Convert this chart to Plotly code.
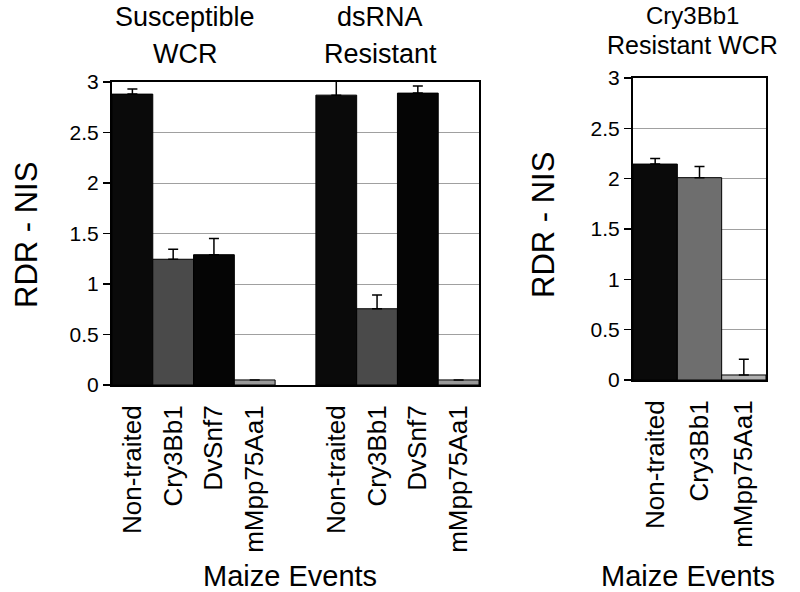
import plotly.graph_objects as go

# ---- data ----
left_pos = [0, 1, 2, 3, 5, 6, 7, 8]
left_labels = ["Non-traited", "Cry3Bb1", "DvSnf7", "mMpp75Aa1",
               "Non-traited", "Cry3Bb1", "DvSnf7", "mMpp75Aa1"]
left_values = [2.88, 1.245, 1.29, 0.05, 2.87, 0.755, 2.89, 0.05]
left_err = [0.05, 0.10, 0.16, 0.0, 0.14, 0.135, 0.07, 0.0]
left_colors = ["#0a0a0a", "#4a4a4a", "#050505", "#9a9a9a",
               "#0a0a0a", "#4a4a4a", "#050505", "#9a9a9a"]

right_pos = [0, 1, 2]
right_labels = ["Non-traited", "Cry3Bb1", "mMpp75Aa1"]
right_values = [2.145, 2.01, 0.05]
right_err = [0.055, 0.11, 0.155]
right_colors = ["#0a0a0a", "#6e6e6e", "#b0b0b0"]

y_ticks = [0, 0.5, 1, 1.5, 2, 2.5, 3]
y_ticktext = ["0", "0.5", "1", "1.5", "2", "2.5", "3"]

W, H = 800, 592
FONT = "Liberation Sans, Arial, sans-serif"

def px_x(v):
    return v / W

def px_y(v):
    return 1 - v / H

fig = go.Figure()

fig.add_trace(go.Bar(
    x=left_pos, y=left_values, width=1.0,
    marker=dict(color=left_colors, line=dict(color="#000000", width=1)),
    error_y=dict(type="data", array=left_err, arrayminus=[0] * len(left_err),
                 symmetric=False, color="#000000", thickness=1.5, width=5),
    xaxis="x", yaxis="y", showlegend=False,
))
fig.add_trace(go.Bar(
    x=right_pos, y=right_values, width=1.0,
    marker=dict(color=right_colors, line=dict(color="#000000", width=1)),
    error_y=dict(type="data", array=right_err, arrayminus=[0] * len(right_err),
                 symmetric=False, color="#000000", thickness=1.5, width=5),
    xaxis="x2", yaxis="y2", showlegend=False,
))

axis_common_y = dict(
    range=[0, 3], tickvals=y_ticks, ticktext=y_ticktext,
    showgrid=True, gridcolor="#a0a0a0", gridwidth=1,
    showline=True, linecolor="#000000", linewidth=2, mirror=True,
    ticks="outside", ticklen=7, tickcolor="#000000", tickwidth=1.5,
    tickfont=dict(size=21, color="#000000", family=FONT),
    zeroline=False, fixedrange=True, automargin=False,
)
axis_common_x = dict(
    showline=True, linecolor="#000000", linewidth=2, mirror=True,
    ticks="", showgrid=False, zeroline=False, tickangle=-90,
    tickfont=dict(size=26, color="#000000", family=FONT),
    ticklabelstandoff=8, automargin=False, fixedrange=True,
)

fig.update_layout(
    template="none",
    width=W, height=H,
    margin=dict(l=0, r=0, t=0, b=0, pad=0, autoexpand=False),
    paper_bgcolor="#ffffff", plot_bgcolor="#ffffff",
    bargap=0,
    hovermode=False,
    xaxis=dict(domain=[px_x(112), px_x(479)], range=[-0.5, 8.5],
               tickvals=left_pos, ticktext=left_labels, anchor="y", **axis_common_x),
    yaxis=dict(domain=[px_y(385), px_y(82)], anchor="x", **axis_common_y),
    xaxis2=dict(domain=[px_x(633), px_x(766)], range=[-0.5, 2.5],
                tickvals=right_pos, ticktext=right_labels, anchor="y2", **axis_common_x),
    yaxis2=dict(domain=[px_y(380), px_y(78)], anchor="x2", **axis_common_y),
)

def note(text, x, y, size, angle=0):
    fig.add_annotation(text=text, x=px_x(x), y=px_y(y), xref="paper", yref="paper",
                       showarrow=False, xanchor="center", yanchor="middle",
                       textangle=angle,
                       font=dict(size=size, color="#000000", family=FONT))

note("Susceptible", 185, 17, 27)
note("WCR", 185, 54, 27)
note("dsRNA", 380, 17, 27)
note("Resistant", 380, 54, 27)
note("Cry3Bb1", 692, 16, 24)
note("Resistant WCR", 692, 45, 25)

note("RDR - NIS", 27, 235, 31, -90)
note("RDR - NIS", 543, 225, 31, -90)
note("Maize Events", 290, 576, 29)
note("Maize Events", 688, 576, 29)

fig.write_html("out.html",
               config={"displayModeBar": False, "staticPlot": True},
               post_script="document.body.style.margin='0px';document.body.style.overflow='hidden';")
